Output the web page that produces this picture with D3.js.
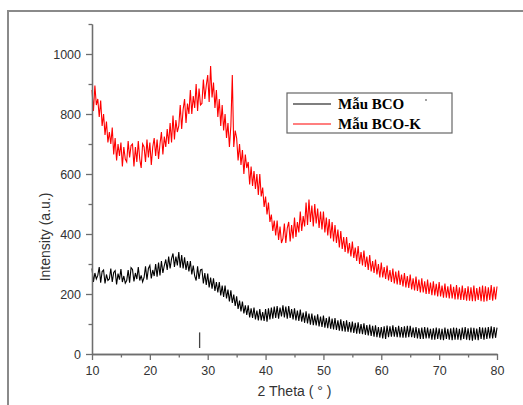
<!DOCTYPE html>
<meta charset="utf-8">
<script src="https://d3js.org/d3.v7.min.js"></script>
<style>
  body { margin: 0; background: #fff; }
  svg { display: block; }
</style>
<div id="chart"></div>
<script>
// scan grid (2 theta, degrees)
var thetaStart = 10, thetaStep = 0.25;

// Mau BCO-K (red), 4 readings per degree
var bcoK = [
  880, 810, 895, 830,  850, 790, 845, 760,  800, 730, 775, 705,  740, 700, 755, 665,
  720, 645, 700, 660,  705, 625, 690, 650,  640, 710, 655, 695,  700, 625, 690, 640,
  710, 650, 620, 700,  690, 640, 715, 655,  705, 630, 690, 720,  660, 715, 650, 700,
  740, 665, 725, 690,  750, 700, 770, 705,  795, 715, 780, 740,  760, 830, 750, 815,
  850, 770, 835, 800,  880, 800, 860, 820,  900, 810, 885, 830,  835, 915, 850, 895,
  930, 840, 960, 855,  905, 820, 880, 790,  850, 760, 830, 745,  800, 720, 770, 690,
  760, 930, 690, 745,  720, 645, 700, 630,  680, 600, 665, 620,  640, 565, 625, 560,
  610, 550, 600, 530,  600, 525, 555, 490,  525, 465, 505, 440,  465, 410, 445, 395,
  445, 380, 425, 370,  385, 435, 370, 420,  440, 375, 430, 385,  455, 390, 440, 405,
  475, 410, 460, 425,  505, 430, 515, 440,  495, 425, 500, 435,  485, 420, 475, 415,
  475, 405, 455, 395,  450, 385, 440, 375,  430, 370, 415, 355,  410, 350, 390, 340,
  390, 335, 370, 325,  375, 320, 355, 310,  360, 300, 340, 295,  345, 290, 325, 280,
  330, 275, 310, 270,  315, 265, 300, 255,  305, 255, 290, 250,  295, 245, 280, 240,
  285, 235, 275, 232,  278, 230, 265, 225,  270, 222, 260, 220,  265, 215, 252, 212,
  258, 210, 248, 205,  252, 205, 242, 200,  248, 200, 238, 196,  242, 195, 234, 192,
  240, 192, 228, 188,  235, 188, 226, 185,  232, 185, 224, 182,  230, 182, 222, 180,
  228, 180, 220, 178,  226, 178, 222, 176,  228, 176, 220, 180,  224, 176, 228, 174,
  226, 176, 222, 180,  230, 178, 224, 182,  225
];

// Mau BCO (black)
var bco = [
  285, 240, 270, 250,  262, 290, 238, 275,  280, 235, 265, 245,  250, 285, 240, 272,
  278, 232, 268, 248,  283, 240, 260, 236,  245, 280, 238, 288,  282, 242, 270, 250,
  290, 245, 262, 240,  255, 292, 248, 285,  295, 252, 280, 260,  300, 258, 305, 262,
  310, 270, 295, 315,  280, 325, 285, 318,  335, 290, 325, 295,  340, 288, 330, 285,
  322, 280, 310, 275,  310, 265, 295, 260,  245, 292, 250, 280,  282, 235, 270, 230,
  268, 222, 255, 218,  252, 210, 240, 205,  240, 195, 228, 190,  228, 185, 215, 175,
  212, 170, 198, 160,  192, 150, 178, 142,  175, 135, 162, 130,  162, 122, 152, 120,
  155, 115, 145, 112,  150, 112, 140, 110,  150, 108, 152, 115,  155, 118, 158, 120,
  160, 118, 155, 125,  162, 122, 158, 118,  160, 120, 150, 115,  152, 112, 145, 110,
  148, 108, 138, 104,  142, 102, 135,  98,  135,  96, 128,  95,  132,  92, 125,  90,
  128,  88, 120,  86,  125,  84, 118,  82,  120,  80, 112,  78,  116,  76, 110,  74,
  112,  74, 106,  72,  108,  70, 104,  68,  106,  68, 100,  66,  102,  64,  96,  62,
   98,  60,  94,  58,   96,  56,  90,  54,   90,  52,  92,  50,   95,  56,  92,  58,
   96,  58,  90,  56,   94,  55,  90,  54,   92,  54,  94,  56,   94,  56,  88,  54,
   90,  52,  86,  50,   88,  50,  90,  52,   88,  52,  84,  48,   86,  48,  88,  50,
   86,  48,  84,  46,   88,  50,  84,  48,   86,  46,  88,  48,   87,  48,  84,  46,
   88,  50,  90,  48,   86,  46,  88,  44,   87,  48,  85,  46,   90,  50,  88,  48,
   88,  50,  90,  52,   92,  52,  90,  54,   88
];

var xTicks = [10, 20, 30, 40, 50, 60, 70, 80];
var xMinor = [15, 25, 35, 45, 55, 65, 75];
var yTicks = [0, 200, 400, 600, 800, 1000];
var yMinor = [100, 300, 500, 700, 900, 1100];
var markTheta = 28.6, markRange = [20, 72];   // small reference mark
var legendNames = ["Mẫu BCO", "Mẫu BCO-K"];
var legendColors = ["#000000", "#ff0000"];

var W = 523, H = 405;
var margin = {top: 24, right: 26, bottom: 51, left: 92},
    width = W - margin.left - margin.right,
    height = H - margin.top - margin.bottom;

var root = d3.select("#chart").append("svg")
    .attr("width", W)
    .attr("height", H);

// page frame (top and left edges of the screenshot)
root.append("path")
    .attr("d", "M8," + H + "V11H" + W)
    .attr("fill", "none")
    .attr("stroke", "#8a8a8a")
    .attr("stroke-width", 2);

var svg = root.append("g")
    .attr("transform", "translate(" + margin.left + "," + margin.top + ")");

var x = d3.scaleLinear().domain([10, 80]).range([0, width]);
var y = d3.scaleLinear().domain([0, 1100]).range([height, 0]);

function toPoints(vals) {
  return vals.map(function(v, i) { return [thetaStart + i * thetaStep, v]; });
}

var line = d3.line()
    .x(function(d) { return x(d[0]); })
    .y(function(d) { return y(d[1]); });

svg.append("path")
    .datum(toPoints(bcoK))
    .attr("fill", "none")
    .attr("stroke", "#ff0000")
    .attr("stroke-width", 1.1)
    .attr("d", line);

svg.append("path")
    .datum(toPoints(bco))
    .attr("fill", "none")
    .attr("stroke", "#000")
    .attr("stroke-width", 1.1)
    .attr("d", line);

// reference mark
svg.append("line")
    .attr("x1", x(markTheta)).attr("x2", x(markTheta))
    .attr("y1", y(markRange[0])).attr("y2", y(markRange[1]))
    .attr("stroke", "#444")
    .attr("stroke-width", 1.3);

// axes
function styleAxis(g) {
  g.select(".domain").attr("stroke", "#6e6e6e").attr("stroke-width", 1.3);
  g.selectAll(".tick line").attr("stroke", "#6e6e6e").attr("stroke-width", 1.3);
  g.selectAll(".tick text")
    .attr("fill", "#333")
    .style("font-family", "'Liberation Sans', Arial, sans-serif")
    .style("font-size", "12.5px");
}

svg.append("g")
    .attr("transform", "translate(0," + height + ")")
    .call(d3.axisBottom(x).tickValues(xTicks).tickSize(6).tickSizeOuter(0).tickPadding(6))
    .call(styleAxis);
svg.append("g")
    .attr("transform", "translate(0," + height + ")")
    .call(d3.axisBottom(x).tickValues(xMinor).tickSize(3.5).tickSizeOuter(0).tickFormat(""))
    .call(styleAxis);

svg.append("g")
    .call(d3.axisLeft(y).tickValues(yTicks).tickFormat(d3.format("d"))
      .tickSize(6).tickSizeOuter(0).tickPadding(5))
    .call(styleAxis);
svg.append("g")
    .call(d3.axisLeft(y).tickValues(yMinor).tickSize(3.5).tickSizeOuter(0).tickFormat(""))
    .call(styleAxis);

// axis titles
svg.append("text")
    .attr("x", width / 2)
    .attr("y", height + 42)
    .attr("text-anchor", "middle")
    .attr("fill", "#333")
    .style("font-family", "'Liberation Sans', Arial, sans-serif")
    .style("font-size", "14px")
    .text("2 Theta ( ° )");

root.append("text")
    .attr("transform", "translate(50,237) rotate(-90)")
    .attr("text-anchor", "middle")
    .attr("fill", "#333")
    .style("font-family", "'Liberation Sans', Arial, sans-serif")
    .style("font-size", "14px")
    .text("Intensity (a.u.)");

// legend
var legend = root.append("g").attr("transform", "translate(287,93)");
legend.append("rect")
    .attr("width", 165).attr("height", 40)
    .attr("fill", "#fff")
    .attr("stroke", "#666")
    .attr("stroke-width", 1.2);

legendNames.forEach(function(name, i) {
  var ly = 11 + i * 20;
  legend.append("line")
      .attr("x1", 6).attr("x2", 44)
      .attr("y1", ly).attr("y2", ly)
      .attr("stroke", legendColors[i])
      .attr("stroke-width", 1.2);
  legend.append("text")
      .attr("x", 51).attr("y", ly + 5)
      .attr("fill", "#000")
      .style("font-family", "'Liberation Serif', 'Times New Roman', serif")
      .style("font-weight", "bold")
      .style("font-size", "15px")
      .text(name);
});
// stray dot in the legend box
legend.append("circle")
    .attr("cx", 139).attr("cy", 7).attr("r", 0.9)
    .attr("fill", "#777");
</script>
